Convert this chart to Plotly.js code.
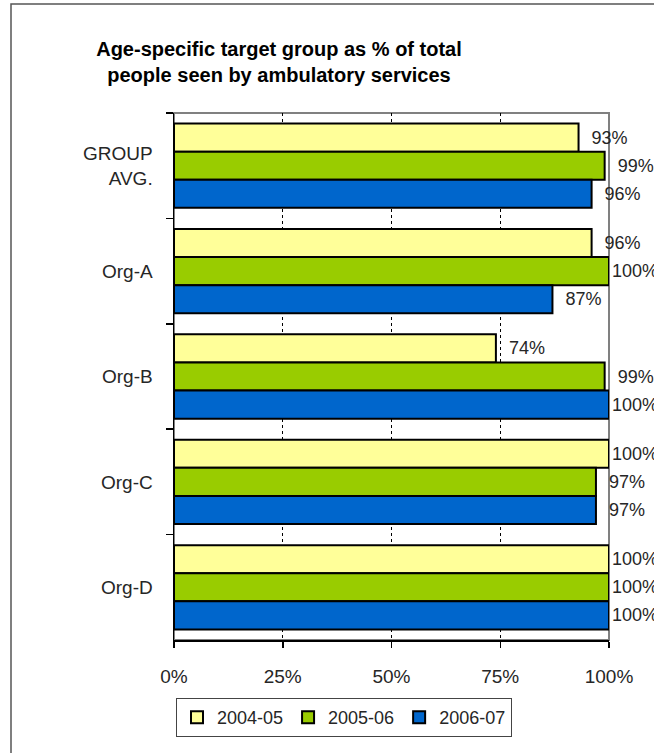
<!DOCTYPE html>
<html>
<head>
<meta charset="utf-8">
<script src="https://cdn.plot.ly/plotly-3.0.1.min.js"></script>
<style>html,body{margin:0;padding:0;background:#fff;}#chart{width:654px;height:753px;}</style>
</head>
<body>
<div id="chart"></div>
<script>
const categories = ["GROUP<br>AVG.", "Org-A", "Org-B", "Org-C", "Org-D"];
const seriesNames = ["2004-05", "2005-06", "2006-07"];
const values2004 = [93, 96, 74, 100, 100];
const values2005 = [99, 100, 99, 97, 100];
const values2006 = [96, 87, 100, 97, 100];
const xTicks = [0, 25, 50, 75, 100];
const colors = ["#FFFF99", "#99CC00", "#0066CC"];

const allValues = [values2004, values2005, values2006];
const NB = "\u00a0";
function labelFor(v) { return (v >= 100 ? "" : NB + NB) + v + "%"; }

const traces = allValues.map((vals, i) => ({
  type: "bar",
  orientation: "h",
  name: seriesNames[i],
  y: categories,
  x: vals,
  text: vals.map(labelFor),
  textposition: "outside",
  cliponaxis: false,
  constraintext: "none",
  textfont: {family: "Liberation Sans, Arial, sans-serif", size: 18, color: "#262626"},
  marker: {color: colors[i], line: {color: "#000000", width: 2}},
  hoverinfo: "skip"
}));

const layout = {
  width: 654, height: 753,
  margin: {l: 174, r: 45, t: 113, b: 113},
  paper_bgcolor: "#ffffff",
  plot_bgcolor: "#ffffff",
  font: {family: "Liberation Sans, Arial, sans-serif", size: 18, color: "#262626"},
  title: {
    text: "<b>Age-specific target group as % of total<br>people seen by ambulatory services</b>",
    font: {family: "Liberation Sans, Arial, sans-serif", size: 20, color: "#000000"},
    xref: "container", x: 279/654, xanchor: "center",
    yref: "container", y: 1 - 56/753, yanchor: "top"
  },
  barmode: "group",
  bargap: 0.2,
  bargroupgap: 0,
  xaxis: {
    range: [0, 100],
    tickvals: xTicks,
    ticktext: xTicks.map(t => t + "%"),
    showgrid: true,
    gridcolor: "#000000",
    gridwidth: 1,
    griddash: "3px,3px",
    zeroline: false,
    showline: true,
    linecolor: "#000000",
    linewidth: 1.5,
    ticks: "outside",
    ticklen: 6,
    tickcolor: "#000000",
    tickwidth: 1.5,
    ticklabelstandoff: 13,
    tickfont: {size: 19, color: "#262626"},
    fixedrange: true
  },
  yaxis: {
    type: "category",
    autorange: "reversed",
    showgrid: false,
    zeroline: false,
    showline: true,
    linecolor: "#000000",
    linewidth: 1.5,
    ticks: "outside",
    tickson: "boundaries",
    ticklen: 7,
    tickcolor: "#000000",
    tickwidth: 1.5,
    ticklabelstandoff: 16,
    tickfont: {size: 19, color: "#262626"},
    fixedrange: true
  },
  showlegend: true,
  legend: {
    orientation: "h",
    x: 2/435, xanchor: "left",
    y: -58/527, yanchor: "top",
    bgcolor: "#ffffff",
    bordercolor: "#444444",
    borderwidth: 1,
    font: {size: 18, color: "#262626"},
    traceorder: "normal",
    valign: "middle"
  },
  shapes: [
    {type: "rect", xref: "paper", yref: "paper", x0: 0, x1: 1, y0: 0, y1: 1,
     line: {color: "#808080", width: 2}, layer: "below"},
    {type: "rect", xref: "paper", yref: "paper", x0: (11-174)/435, x1: 2, y0: -1, y1: (640-4)/527,
     line: {color: "#555555", width: 1.5}, layer: "below"}
  ]
};

Plotly.newPlot("chart", traces, layout, {displayModeBar: false, staticPlot: true});
</script>
</body>
</html>
